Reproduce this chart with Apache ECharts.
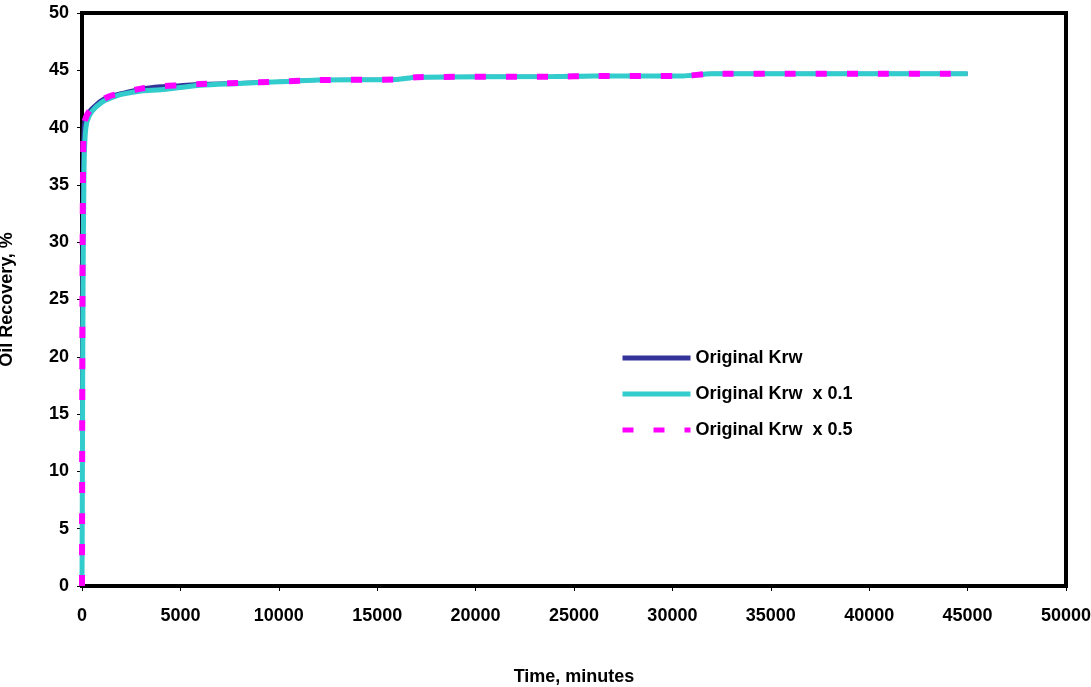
<!DOCTYPE html>
<html>
<head>
<meta charset="utf-8">
<script src="https://cdn.jsdelivr.net/npm/echarts@6/dist/echarts.min.js"></script>
<style>html,body{margin:0;padding:0;background:#fff}#c{width:1091px;height:687px}</style>
</head>
<body>
<div id="c"></div>
<script>
var seriesNames = ['Original Krw', 'Original Krw  x 0.1', 'Original Krw  x 0.5'];
var timeOrig = [0, 10, 30, 60, 100, 200, 400, 700, 1000, 1500, 2000, 3000, 4000, 5000, 6000, 8000, 10000, 12000, 16000, 17000, 24000, 26000, 30500, 32000, 45000];
var recOrig  = [0, 15, 30, 38, 40.3, 40.9, 41.5, 42.0, 42.4, 42.8, 43.0, 43.4, 43.6, 43.7, 43.8, 43.9, 44.0, 44.15, 44.2, 44.4, 44.45, 44.5, 44.5, 44.7, 44.7];
var timeX01 = [0, 20, 50, 100, 150, 250, 500, 1000, 1500, 2000, 3000, 4000, 5000, 6000, 8000, 10000, 12000, 16000, 17000, 24000, 26000, 30500, 32000, 45000];
var recX01  = [0, 10, 25, 36, 39, 40.5, 41.4, 42.2, 42.6, 42.9, 43.2, 43.3, 43.5, 43.7, 43.85, 44.0, 44.15, 44.2, 44.4, 44.45, 44.5, 44.5, 44.7, 44.7];
var timeX05 = [0, 10, 30, 60, 100, 200, 400, 700, 1000, 1500, 2000, 3000, 4000, 5000, 6000, 8000, 10000, 12000, 16000, 17000, 24000, 26000, 30500, 32000, 45000];
var recX05  = [0, 14, 29, 37.5, 40.2, 40.9, 41.5, 42.0, 42.4, 42.8, 43.0, 43.4, 43.6, 43.7, 43.8, 43.9, 44.0, 44.15, 44.2, 44.4, 44.45, 44.5, 44.5, 44.7, 44.7];

function pairs(xs, ys) { return xs.map(function (x, i) { return [x, ys[i]]; }); }

var chart = echarts.init(document.getElementById('c'));
var font = 'Liberation Sans, Arial, sans-serif';
var txt = { fontFamily: font, fontWeight: 'bold', fontSize: 18, color: '#000' };
chart.setOption({
  animation: false,
  backgroundColor: '#fff',
  textStyle: { fontFamily: font },
  grid: { left: 82, right: 25, top: 13, bottom: 101, show: true, borderColor: '#000', borderWidth: 4,
          containLabel: false, outerBoundsMode: 'none' },
  legend: {
    orient: 'vertical', left: 615, top: 344, itemGap: 18, itemWidth: 68, itemHeight: 20,
    itemStyle: { opacity: 0 },
    lineStyle: { width: 5 },
    textStyle: txt,
    data: seriesNames
  },
  xAxis: {
    type: 'value', min: 0, max: 50000, interval: 5000,
    name: 'Time, minutes', nameLocation: 'middle', nameGap: 82,
    nameTextStyle: txt,
    axisLine: { show: true, lineStyle: { color: '#000', width: 4 } },
    axisTick: { show: true, inside: false, length: 5, lineStyle: { color: '#000', width: 1 } },
    axisLabel: Object.assign({ margin: 21, formatter: function (v) { return String(v); } }, txt),
    splitLine: { show: false }
  },
  yAxis: {
    type: 'value', min: 0, max: 50, interval: 5,
    name: 'Oil Recovery, %', nameLocation: 'middle', nameGap: 66,
    nameTextStyle: txt,
    axisLine: { show: true, lineStyle: { color: '#000', width: 4 } },
    axisTick: { show: true, inside: false, length: 5, lineStyle: { color: '#000', width: 1 } },
    axisLabel: Object.assign({ margin: 13 }, txt),
    splitLine: { show: false }
  },
  series: [
    { name: seriesNames[0], type: 'line', symbol: 'none', smooth: 0.3, data: pairs(timeOrig, recOrig),
      itemStyle: { color: '#333399' }, lineStyle: { color: '#333399', width: 4 }, z: 2 },
    { name: seriesNames[1], type: 'line', symbol: 'none', smooth: 0.3, data: pairs(timeX01, recX01),
      itemStyle: { color: '#33CCCC' }, lineStyle: { color: '#33CCCC', width: 5 }, z: 3 },
    { name: seriesNames[2], type: 'line', symbol: 'none', smooth: 0.3, data: pairs(timeX05, recX05),
      itemStyle: { color: '#FF00FF' }, lineStyle: { color: '#FF00FF', width: 6, type: [11, 20], cap: 'butt' }, z: 4 }
  ]
});
</script>
</body>
</html>
